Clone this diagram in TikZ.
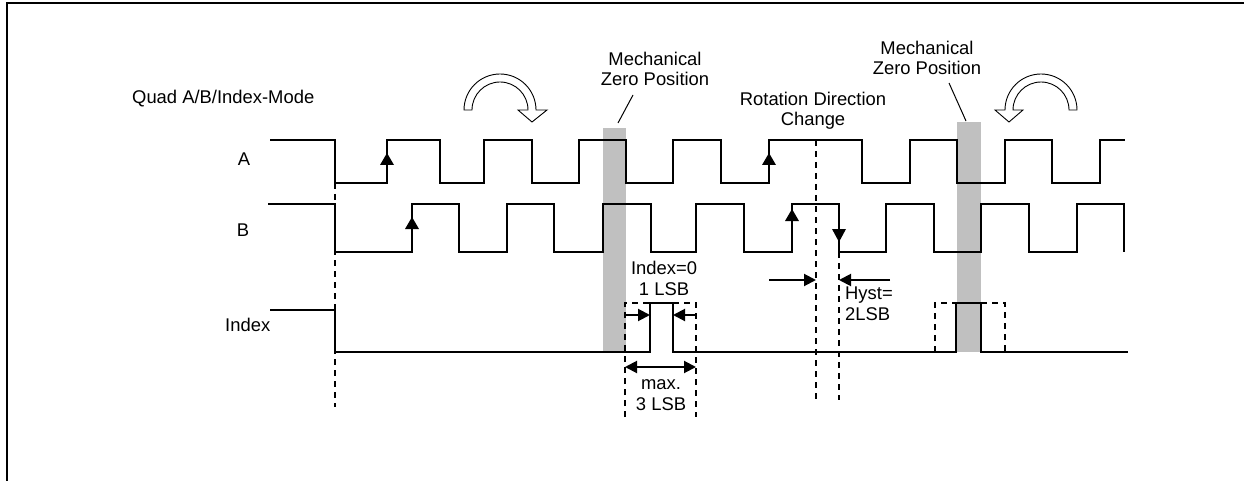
\documentclass[tikz,border=0pt]{standalone}
\usepackage{fontspec}
\setmainfont{Liberation Sans}
\usetikzlibrary{arrows.meta}
\definecolor{zerogray}{HTML}{C0C0C0}
\newcommand\uptri[2]{\fill (#1-7,#2+12) -- (#1,#2) -- (#1+7,#2+12) -- cycle;}
\newcommand\dntri[2]{\fill (#1-7,#2-13) -- (#1,#2) -- (#1+7,#2-13) -- cycle;}
\begin{document}
\begin{tikzpicture}[x=1pt,y=-1pt,
  sig/.style={line width=2pt, line join=miter},
  dsh/.style={line width=2pt, dash pattern=on 6pt off 5pt},
  lbl/.style={font=\fontsize{18.4}{20.5}\selectfont, inner sep=0pt},
  tipa/.style={-{Triangle[length=12pt,width=12pt]}},
  dimarr/.style={line width=2pt, tipa},
  dblarr/.style={line width=2pt, {Triangle[length=12pt,width=12pt]}-{Triangle[length=12pt,width=12pt]}},
  lead/.style={line width=1pt},
  hollow/.style={line width=0.9pt, fill=white}
]
\useasboundingbox (0,0) rectangle (1244,481);
% frame
\draw[line width=2pt] (1244,3) -- (7,3) -- (7,481);
% mechanical zero bars
\fill[zerogray] (603,128) rectangle (626,352);
\fill[zerogray] (957,122) rectangle (981,352);
% dashed guides
\draw[dsh] (335,183) -- (335,407);
\draw[dsh] (816,140) -- (816,400);
\draw[dsh] (839,252) -- (839,400);
\draw[dsh] (625,417) -- (625,303) -- (650,303);
\draw[dsh] (673,303) -- (696,303) -- (696,417);
\draw[dsh] (935,352) -- (935,303) -- (956,303);
\draw[dsh] (981,303) -- (1005,303) -- (1005,352);
% signal A
\draw[sig] (270,140) -- (335,140) -- (335,183) -- (387,183) -- (387,140) -- (440,140) -- (440,183)
  -- (484,183) -- (484,140) -- (532,140) -- (532,183) -- (579,183) -- (579,140) -- (626,140)
  -- (626,183) -- (673,183) -- (673,140) -- (721,140) -- (721,183) -- (769,183) -- (769,140)
  -- (862,140) -- (862,183) -- (910,183) -- (910,140) -- (957,140) -- (957,183) -- (1005,183)
  -- (1005,140) -- (1052,140) -- (1052,183) -- (1100,183) -- (1100,140) -- (1125,140);
% signal B
\draw[sig] (268,204) -- (335,204) -- (335,252) -- (412,252) -- (412,204) -- (459,204) -- (459,252)
  -- (507,252) -- (507,204) -- (554,204) -- (554,252) -- (603,252) -- (603,204) -- (651,204)
  -- (651,252) -- (696,252) -- (696,204) -- (744,204) -- (744,252) -- (792,252) -- (792,204)
  -- (839,204) -- (839,252) -- (886,252) -- (886,204) -- (934,204) -- (934,252) -- (981,252)
  -- (981,204) -- (1029,204) -- (1029,252) -- (1077,252) -- (1077,204) -- (1124,204) -- (1124,252);
% signal Index
\draw[sig] (270,310) -- (335,310) -- (335,352) -- (650,352) -- (650,303) -- (673,303) -- (673,352)
  -- (956,352) -- (956,303) -- (981,303) -- (981,352) -- (1128,352);
% edge markers
\uptri{387}{153}
\uptri{769}{153}
\uptri{412}{217}
\uptri{792}{209}
\dntri{839}{242}
% dimension arrows
\draw[dimarr] (625,315) -- (650,315);
\draw[dimarr] (696,315) -- (673,315);
\draw[dblarr] (625,367) -- (696,367);
\draw[dimarr] (769,280) -- (816,280);
\draw[dimarr] (890,280) -- (839,280);
% hollow rotation arrows
\draw[hollow] (464,110) arc[start angle=180, end angle=360, radius=36] -- (547,110) -- (532,122)
  -- (518,110) -- (528,110) arc[start angle=360, end angle=180, radius=28] -- cycle;
\draw[hollow] (1077,110) arc[start angle=0, end angle=-180, radius=36] -- (995,110) -- (1009,122)
  -- (1023,110) -- (1013,110) arc[start angle=180, end angle=360, radius=28] -- cycle;
% leader lines
\draw[lead] (618,123) -- (633,95);
\draw[lead] (949,83) -- (966,121);
% labels
\node[lbl, anchor=base west] (quad) at (132,104) {Quad A/B/Index-Mode};
\node[lbl, anchor=base] (la) at (244,166) {A};
\node[lbl, anchor=base] (lb) at (243,236) {B};
\node[lbl, anchor=base west] (lidx) at (225,331) {Index};
\node[lbl, anchor=base, align=center] (mz1) at (655,86) {Mechanical\\Zero Position};
\node[lbl, anchor=base, align=center] (mz2) at (927,75) {Mechanical\\Zero Position};
\node[lbl, anchor=base, align=center] (rdc) at (813,126) {Rotation Direction\\Change};
\node[lbl, anchor=base, align=center] (idx0) at (664,295) {Index=0\\1 LSB};
\node[lbl, anchor=base, align=center] (max) at (661,410) {max.\\3 LSB};
\node[lbl, anchor=base west, align=left] (hyst) at (845,320) {Hyst=\\2LSB};
\end{tikzpicture}
\end{document}
